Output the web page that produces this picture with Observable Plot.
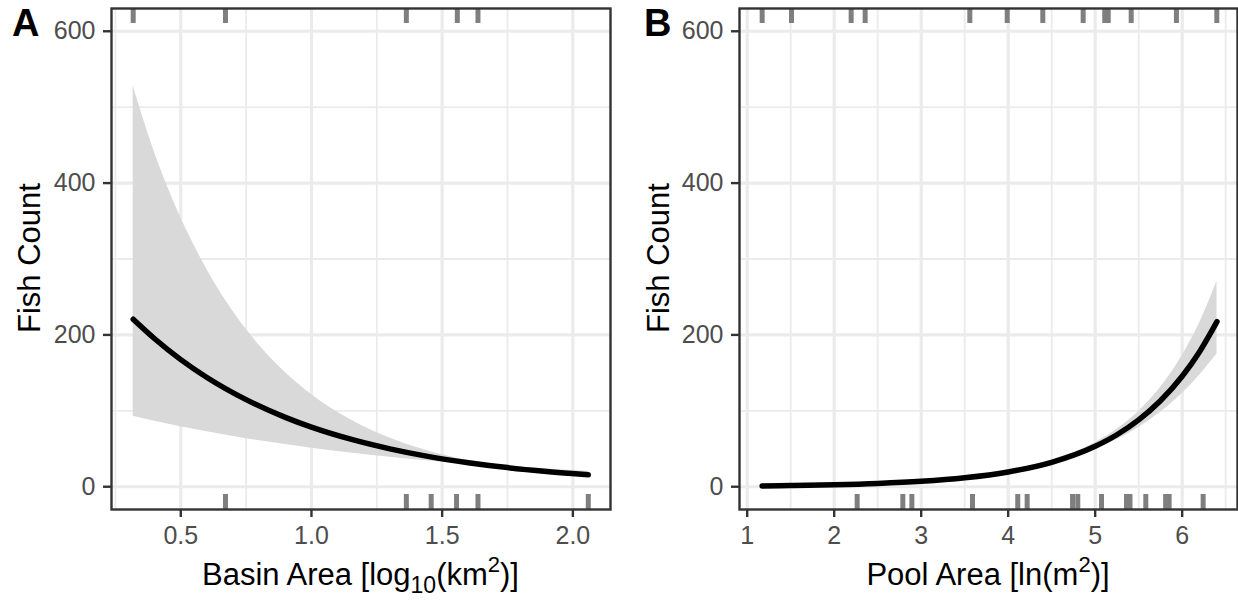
<!DOCTYPE html>
<html>
<head>
<meta charset="utf-8">
<script src="https://cdn.jsdelivr.net/npm/d3@7"></script>
<script src="https://cdn.jsdelivr.net/npm/@observablehq/plot@0.6"></script>
<style>
  html, body { margin: 0; padding: 0; background: #fff; }
  #wrap { position: relative; width: 1238px; height: 600px; overflow: hidden; font-family: "Liberation Sans", Arial, sans-serif; }
  .panel { position: absolute; top: 0; }
  .panel svg { display: block; }
  svg g[aria-label^="x-axis"] path, svg g[aria-label^="y-axis"] path,
  svg g[aria-label^="x-axis"] line, svg g[aria-label^="y-axis"] line { stroke: #333 !important; stroke-width: 2.4px; }
  svg g[aria-label^="x-axis"] text, svg g[aria-label^="y-axis"] text { fill: #4d4d4d; }
  #overlay { position: absolute; left: 0; top: 0; pointer-events: none; }
</style>
</head>
<body>
<div id="wrap">
  <div class="panel" id="pA" style="left:0px"></div>
  <div class="panel" id="pB" style="left:619px"></div>
  <svg id="overlay" width="1238" height="600" font-family="Liberation Sans, Arial, sans-serif">
    <text x="12" y="36" font-size="38" font-weight="bold" fill="#000">A</text>
    <text x="644" y="36" font-size="38" font-weight="bold" fill="#000">B</text>
    <text transform="translate(40,258) rotate(-90)" text-anchor="middle" font-size="31" fill="#000">Fish Count</text>
    <text transform="translate(669,258) rotate(-90)" text-anchor="middle" font-size="31" fill="#000">Fish Count</text>
    <text x="360.5" y="585" text-anchor="middle" font-size="31" fill="#000">Basin Area [log<tspan font-size="23" dy="8">10</tspan><tspan dy="-8">(km</tspan><tspan font-size="22" dy="-13">2</tspan><tspan dy="13">)]</tspan></text>
    <text x="988" y="585" text-anchor="middle" font-size="31" fill="#000">Pool Area [ln(m<tspan font-size="22" dy="-13">2</tspan><tspan dy="13">)]</tspan></text>
  </svg>
</div>
<script>
// ---------- Data ----------
// Panel A: Basin area (log10 km2)
const basinX     = [0.318, 0.4, 0.5, 0.6, 0.75, 0.9, 1.0, 1.15, 1.3, 1.45, 1.6, 1.75, 1.9, 2.059];
const basinFit   = [220.6, 194.9, 167.4, 143.9, 114.7, 91.4, 78.5, 62.6, 49.9, 39.7, 31.7, 25.2, 20.1, 15.8];
const basinLower = [92.7, 86.3, 79.0, 72.3, 63.3, 55.5, 50.7, 44.4, 38.8, 33.8, 29.1, 23.2, 17.2, 12.3];
const basinUpper = [528, 440.1, 354.7, 286.3, 207.7, 150.5, 121.5, 88.2, 64.1, 46.7, 34.6, 27.4, 23.5, 20.3];
const basinRugTop    = [0.318, 0.671, 1.363, 1.558, 1.637];
const basinRugBottom = [0.671, 1.363, 1.458, 1.555, 1.637, 2.059];
const basinTicks = [0.5, 1.0, 1.5, 2.0];
const basinMinor = [0.25, 0.75, 1.25, 1.75];

// Panel B: Pool area (ln m2)
const poolX     = [1.172, 1.5, 2.0, 2.5, 3.0, 3.5, 4.0, 4.5, 5.0, 5.25, 5.5, 5.75, 6.0, 6.2, 6.4];
const poolFit   = [1.1, 1.6, 2.6, 4.3, 7.1, 11.8, 19.5, 32.2, 53.3, 68.5, 88.0, 113.2, 145.5, 177.9, 217.5];
const poolLower = [0.7, 1.05, 1.8, 3.2, 5.6, 9.8, 17.2, 29.5, 49.0, 62.1, 78.1, 98.1, 122.8, 146.8, 174.7];
const poolUpper = [1.7, 2.4, 3.7, 5.8, 9.0, 14.1, 22.2, 35.2, 58.0, 75.6, 99.1, 130.6, 172.5, 215.6, 270.7];
const poolRugTop    = [1.172, 1.509, 2.195, 2.356, 3.559, 3.989, 4.398, 4.862, 5.11, 5.15, 5.414, 5.934, 6.398];
const poolRugBottom = [2.264, 2.789, 2.893, 3.590, 4.110, 4.218, 4.74, 4.80, 5.073, 5.36, 5.40, 5.582, 5.81, 5.85, 6.241];
const poolTicks = [1, 2, 3, 4, 5, 6];
const poolMinor = [1.5, 2.5, 3.5, 4.5, 5.5, 6.5];

// Shared y axis
const yTicks = [0, 200, 400, 600];
const yMinor = [100, 300, 500];
const yDomain = [-30, 630];

const H = 600, MT = 8, MB = 91;
const pxPerUnit = (H - MT - MB) / (yDomain[1] - yDomain[0]);
const rugLen = 15 / pxPerUnit;

function panel({xs, fit, lo, hi, rugTop, rugBottom, xDomain, ticks, minor, fmt, marginLeft, marginRight}) {
  const rows = xs.map((x, i) => ({x, fit: fit[i], lo: lo[i], hi: hi[i]}));
  return Plot.plot({
    width: 619,
    height: H,
    marginTop: MT,
    marginBottom: MB,
    marginLeft,
    marginRight,
    style: {fontFamily: "Liberation Sans, Arial, sans-serif", fontSize: "25px", color: "#4d4d4d", background: "white"},
    x: {domain: xDomain, ticks, tickFormat: fmt, tickSize: 8, tickPadding: 9, label: null},
    y: {domain: yDomain, ticks: yTicks, tickFormat: d3.format("d"), tickSize: 8, tickPadding: 8, label: null},
    marks: [
      Plot.ruleX(minor, {stroke: "#EBEBEB", strokeWidth: 1.8}),
      Plot.ruleY(yMinor, {stroke: "#EBEBEB", strokeWidth: 1.8}),
      Plot.ruleX(ticks, {stroke: "#EBEBEB", strokeWidth: 3.2}),
      Plot.ruleY(yTicks, {stroke: "#EBEBEB", strokeWidth: 3.2}),
      Plot.areaY(rows, {x: "x", y1: "lo", y2: "hi", fill: "#D9D9D9", curve: "monotone-x"}),
      Plot.line(rows, {x: "x", y: "fit", stroke: "black", strokeWidth: 5.5, curve: "monotone-x"}),
      Plot.ruleX(rugTop, {x: d => d, y1: yDomain[1], y2: yDomain[1] - rugLen, stroke: "#7F7F7F", strokeWidth: 5}),
      Plot.ruleX(rugBottom, {x: d => d, y1: yDomain[0], y2: yDomain[0] + rugLen, stroke: "#7F7F7F", strokeWidth: 5}),
      Plot.frame({stroke: "#333", strokeWidth: 2.4})
    ]
  });
}

document.getElementById("pA").appendChild(panel({
  xs: basinX, fit: basinFit, lo: basinLower, hi: basinUpper,
  rugTop: basinRugTop, rugBottom: basinRugBottom,
  xDomain: [0.235, 2.144], ticks: basinTicks, minor: basinMinor, fmt: d3.format(".1f"),
  marginLeft: 111, marginRight: 9
}));

document.getElementById("pB").appendChild(panel({
  xs: poolX, fit: poolFit, lo: poolLower, hi: poolUpper,
  rugTop: poolRugTop, rugBottom: poolRugBottom,
  xDomain: [0.9115, 6.636], ticks: poolTicks, minor: poolMinor, fmt: d3.format("d"),
  marginLeft: 120, marginRight: 1
}));
</script>
</body>
</html>
